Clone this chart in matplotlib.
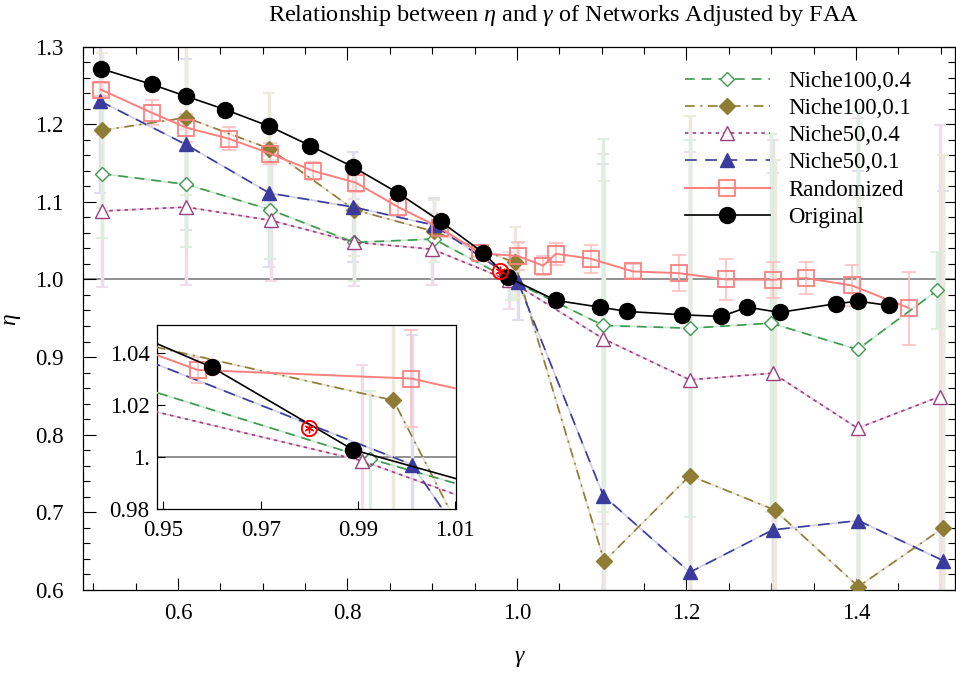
import matplotlib
matplotlib.use("Agg")
import matplotlib.pyplot as plt
import matplotlib.colors as mcolors
import numpy as np

plt.rcParams['font.family'] = ['Liberation Serif', 'DejaVu Serif']
plt.rcParams['mathtext.fontset'] = 'custom'
plt.rcParams['mathtext.it'] = 'Liberation Serif:italic'
plt.rcParams['mathtext.rm'] = 'Liberation Serif'
plt.rcParams['lines.scale_dashes'] = False

# data
orig_g = [0.509, 0.569, 0.610, 0.656, 0.708, 0.756, 0.807, 0.860, 0.910, 0.960, 0.989,
          1.046, 1.098, 1.130, 1.195, 1.241, 1.272, 1.310, 1.376, 1.403, 1.439]
orig_e = [1.2715, 1.2513, 1.2358, 1.2187, 1.1972, 1.1723, 1.1447, 1.1112, 1.0747, 1.0346, 1.0029,
          0.973, 0.9643, 0.9588, 0.9545, 0.9523, 0.9643, 0.9575, 0.9687, 0.972, 0.9665]

rand_g = [0.509, 0.569, 0.610, 0.660, 0.709, 0.760, 0.810, 0.860, 0.909, 0.957, 1.001,
          1.031, 1.046, 1.087, 1.137, 1.191, 1.247, 1.302, 1.341, 1.395, 1.463]
rand_e = [1.2445, 1.2148, 1.1955, 1.1813, 1.162, 1.1396, 1.1246, 1.0932, 1.0666, 1.0336, 1.0303,
          1.0177, 1.0331, 1.0267, 1.0103, 1.0081, 1.0, 0.9996, 1.0017, 0.9923, 0.963]
rand_err = [0.008, 0.016, 0.018, 0.0146, 0.0135, 0.012, 0.012, 0.012, 0.012, 0.005, 0.0185,
            0.012, 0.014, 0.018, 0.009, 0.023, 0.026, 0.023, 0.021, 0.026, 0.047]

n100_04_g = [0.510, 0.610, 0.709, 0.808, 0.902, 0.9925, 1.102, 1.204, 1.300, 1.402, 1.496]
n100_04_e = [1.1362, 1.1224, 1.0898, 1.0477, 1.052, 0.9994, 0.9407, 0.9372, 0.9437, 0.9098, 0.9858]
n100_04_err = [0.083, 0.08, 0.064, 0.05, 0.03, 0.026, 0.24, 0.243, 0.243, 0.307, 0.05]

n100_01_g = [0.510, 0.610, 0.708, 0.808, 0.902, 0.9973, 1.103, 1.204, 1.304, 1.403, 1.503]
n100_01_e = [1.192, 1.2084, 1.1684, 1.0898, 1.0619, 1.0219, 0.637, 0.7474, 0.7032, 0.6044, 0.68]
n100_01_err = [0.1, 0.1, 0.072, 0.06, 0.04, 0.046, 0.49, 0.463, 0.45, 0.5, 0.48]

n50_04_g = [0.510, 0.610, 0.710, 0.808, 0.900, 0.9908, 1.102, 1.204, 1.302, 1.402, 1.499]
n50_04_e = [1.088, 1.0932, 1.076, 1.048, 1.039, 0.9987, 0.9236, 0.8707, 0.8793, 0.8084, 0.8492]
n50_04_err = [0.098, 0.1, 0.078, 0.056, 0.046, 0.037, 0.238, 0.293, 0.30, 0.40, 0.35]

n50_01_g = [0.508, 0.609, 0.708, 0.807, 0.902, 1.0011, 1.102, 1.204, 1.302, 1.403, 1.503]
n50_01_e = [1.2298, 1.174, 1.1112, 1.0932, 1.07, 0.9972, 0.7216, 0.6228, 0.6775, 0.6894, 0.6379]
n50_01_err = [0.118, 0.11, 0.095, 0.071, 0.035, 0.05, 0.427, 0.46, 0.46, 0.45, 0.476]

star_g, star_e = 0.98, 1.0114

green = '#3d9b4f'
olive = '#8f7d35'
purple = '#9b3f7f'
blue = '#3b3b9e'
pink = '#ff7f7f'


def pale(c, f):
    # mix a colour with white, so overlapping bars stay light
    return tuple(f * np.array(mcolors.to_rgb(c)) + (1 - f))


# name, x, y, err, color, marker, filled, dashes, markersize
series = [
    ('Niche100,0.4', n100_04_g, n100_04_e, n100_04_err, green, 'D', False, (7, 5), 7.5),
    ('Niche100,0.1', n100_01_g, n100_01_e, n100_01_err, olive, 'D', True, (7, 4, 1.5, 4), 8.5),
    ('Niche50,0.4', n50_04_g, n50_04_e, n50_04_err, purple, '^', False, (2.5, 3), 10),
    ('Niche50,0.1', n50_01_g, n50_01_e, n50_01_err, blue, '^', True, (8.5, 6), 10),
]


def draw(ax):
    ax.axhline(1.0, color='#888888', lw=1.3, zorder=1)
    # green ends up on top, like in the original
    for name, g, e, err, c, m, filled, dash, ms in series[::-1]:
        ax.errorbar(g, e, yerr=err, fmt='none', ecolor=pale(c, 0.17), elinewidth=2.5,
                    capsize=4, capthick=1.5, zorder=2)
    for name, g, e, err, c, m, filled, dash, ms in series:
        ax.plot(g, e, color=pale(c, 0.25), lw=1.2, zorder=3)
        ax.plot(g, e, color=c, lw=1.2, dashes=dash, marker=m, markersize=ms,
                markerfacecolor=c if filled else 'white',
                markeredgecolor=c, markeredgewidth=1.0, label=name, zorder=4)
    ax.errorbar(rand_g, rand_e, yerr=rand_err, fmt='none', ecolor=pale(pink, 0.5),
                elinewidth=1.2, capsize=5, capthick=1.2, zorder=2)
    ax.plot(rand_g, rand_e, color=pink, lw=1.4, marker='s', markersize=11,
            markerfacecolor='none', markeredgecolor=pink, markeredgewidth=1.3,
            label='Randomized', zorder=5)
    ax.plot(orig_g, orig_e, color='black', lw=1.2, marker='o', markersize=11.5,
            markerfacecolor='black', label='Original', zorder=6)
    ax.plot(star_g, star_e, marker='o', markersize=11, markerfacecolor='none',
            markeredgecolor='red', markeredgewidth=1.4, linestyle='none', zorder=7)
    ax.plot(star_g, star_e, marker=(6, 2, 0), markersize=7, color='red',
            markeredgewidth=1.0, linestyle='none', zorder=7)


fig = plt.figure(figsize=(9.56, 6.73), dpi=100)
ax = fig.add_axes([0.0868, 0.1233, 0.9122, 0.8076])
draw(ax)
ax.set_xlim(0.488, 1.517)
ax.set_ylim(0.6, 1.3)
ax.set_xticks([0.6, 0.8, 1.0, 1.2, 1.4])
ax.set_xticklabels(['0.6', '0.8', '1.0', '1.2', '1.4'])
ax.set_xticks(np.arange(0.5, 1.55, 0.05), minor=True)
ax.set_yticks(np.arange(0.6, 1.31, 0.1))
ax.set_yticklabels(['0.6', '0.7', '0.8', '0.9', '1.0', '1.1', '1.2', '1.3'])
ax.set_yticks(np.arange(0.6, 1.301, 0.02), minor=True)
ax.tick_params(which='both', direction='in', top=True, right=True, labelsize=16.5, width=0.8)
ax.tick_params(which='major', length=9)
ax.tick_params(which='minor', length=5)
ax.tick_params(axis='y', which='both', pad=14)
ax.tick_params(axis='x', which='both', pad=9)
for s in ax.spines.values():
    s.set_linewidth(0.9)

leg = ax.legend(loc='upper left', bbox_to_anchor=(0.7165, 0.895), bbox_transform=fig.transFigure,
                frameon=False, fontsize=16.5, handlelength=3.7, labelspacing=0.27,
                handletextpad=0.8, borderpad=0, borderaxespad=0)

fig.text(0.59, 0.977, r'Relationship between $\eta$ and $\gamma$ of Networks Adjusted by FAA',
         ha='center', va='center', fontsize=17.5)
fig.text(0.544, 0.022, r'$\gamma$', ha='center', va='center', fontsize=17)
fig.text(0.013, 0.525, r'$\eta$', ha='center', va='center', fontsize=17, rotation=90)

# inset zoomed around the crossing point
ins = fig.add_axes([0.1639, 0.2432, 0.3128, 0.2739])
draw(ins)
ins.set_xlim(0.9486, 1.0101)
ins.set_ylim(0.98, 1.0509)
ins.set_xticks([0.95, 0.97, 0.99, 1.01])
ins.set_xticklabels(['0.95', '0.97', '0.99', '1.01'])
ins.set_yticks([0.98, 1.0, 1.02, 1.04])
ins.set_yticklabels(['0.98', '1.', '1.02', '1.04'])
ins.tick_params(direction='in', labelsize=16.5, length=6, width=0.8)
ins.tick_params(axis='x', pad=8)
ins.tick_params(axis='y', pad=5)
for s in ins.spines.values():
    s.set_linewidth(0.9)

fig.savefig('out.png', dpi=100)
